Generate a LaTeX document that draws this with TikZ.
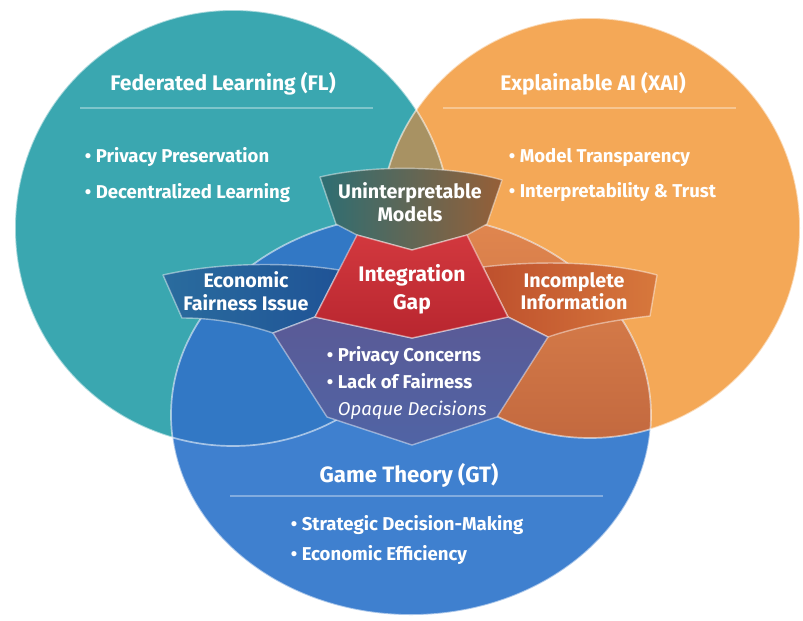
\documentclass[tikz,border=0pt]{standalone}
\usepackage{fontspec}
\setmainfont{Fira Sans}
\usetikzlibrary{positioning}
\definecolor{flteal}{HTML}{3AA7B0}
\definecolor{xaiorange}{HTML}{F4A857}
\definecolor{gtblue}{HTML}{3F80CF}
\definecolor{lenstan}{HTML}{A89263}
\definecolor{flgtblue}{HTML}{3278C5}
\definecolor{xgtlight}{HTML}{E1874F}
\definecolor{xgtdark}{HTML}{C3693F}
\definecolor{unintleft}{HTML}{2D6E73}
\definecolor{unintmid}{HTML}{5F5A4B}
\definecolor{unintright}{HTML}{965F37}
\definecolor{econleft}{HTML}{2A6C9E}
\definecolor{econright}{HTML}{1F5396}
\definecolor{incleft}{HTML}{BE502D}
\definecolor{incright}{HTML}{D7783C}
\definecolor{gaptop}{HTML}{D2383E}
\definecolor{gapbottom}{HTML}{B8262F}
\definecolor{conctop}{HTML}{5A5A96}
\definecolor{concbottom}{HTML}{5064A5}
\tikzset{
	rim/.style={draw=white,draw opacity=.55,line width=1.2pt},
	patch/.style={draw=white,draw opacity=.45,line width=1pt,line join=round},
	sepline/.style={draw=white,draw opacity=.35,line width=.8pt},
	title/.style={text=white,font=\bfseries\fontsize{15}{18}\selectfont},
	item/.style={text=white,align=left,anchor=west,font=\bfseries\fontsize{13.2}{25.5}\selectfont},
	tag/.style={text=white,align=center,font=\bfseries\fontsize{14}{16}\selectfont}
}

\begin{document}
\begin{tikzpicture}[x=0.025cm,y=-0.025cm]
	\useasboundingbox (0,0) rectangle (803,620);
	\fill[flteal] (233,228) circle [radius=218];
	\fill[xaiorange] (590,228) circle [radius=210];
	\begin{scope}
		\clip (233,228) circle [radius=218];
		\fill[lenstan] (590,228) circle [radius=210];
	\end{scope}
	\fill[gtblue] (411,415) ellipse [x radius=240, y radius=200];
	\begin{scope}
		\clip (233,228) circle [radius=218];
		\fill[flgtblue] (411,415) ellipse [x radius=240, y radius=200];
	\end{scope}
	\begin{scope}
		\clip (590,228) circle [radius=210];
		\clip (411,415) ellipse [x radius=240, y radius=200];
		\shade[top color=xgtlight,bottom color=xgtdark] (370,215) rectangle (660,440);
	\end{scope}
	\draw[rim] (233,228) circle [radius=218];
	\draw[rim] (590,228) circle [radius=210];
	\draw[rim] (411,415) ellipse [x radius=240, y radius=200];

	\shade[patch,left color=unintleft,middle color=unintmid,right color=unintright]
		(320,177) .. controls (370,165) and (450,165) .. (502,180) -- (487,224) -- (467,235)
		-- (412,250) -- (357,235) -- (336,224) -- cycle;
	\shade[patch,left color=econleft,right color=econright]
		(163,275) .. controls (220,262) and (290,262) .. (339,270) -- (315,317) -- (273,333)
		.. controls (240,322) and (210,318) .. (182,318) -- cycle;
	\shade[patch,left color=incleft,right color=incright]
		(483,267) .. controls (540,260) and (610,262) .. (657,275) -- (650,316)
		.. controls (615,320) and (580,326) .. (548,337) -- (508,317) -- cycle;
	\shade[patch,top color=conctop,bottom color=concbottom]
		(315,317) -- (412,338) -- (508,317) -- (548,337) -- (497,417) -- (412,445)
		-- (327,417) -- (273,333) -- cycle;
	\shade[patch,top color=gaptop,bottom color=gapbottom]
		(357,235) -- (412,250) -- (467,235) -- (508,317) -- (412,338) -- (315,317) -- cycle;

	\draw[sepline] (80,108) -- (373,108);
	\draw[sepline] (443,108) -- (736,108);
	\draw[sepline] (230,496) -- (603,496);

	\node[title] (fltitle) at (223,84) {Federated Learning (FL)};
	\node[title] (xaititle) at (593,84) {Explainable AI (XAI)};
	\node[title,font=\bfseries\fontsize{15.8}{18}\selectfont] (gttitle) at (409,475) {Game Theory (GT)};
	\node[item] (flitems) at (80,175) {• Privacy Preservation\\• Decentralized Learning};
	\node[item] (xaiitems) at (504,175) {• Model Transparency\\• Interpretability \& Trust};
	\node[item,font=\bfseries\fontsize{13.2}{21.5}\selectfont] (gtitems) at (286,540) {• Strategic Decision-Making\\• Economic Efficiency};
	\node[tag] (unint) at (410,202) {Uninterpretable\\Models};
	\node[tag] (econ) at (246,291) {Economic\\Fairness Issue};
	\node[tag,font=\bfseries\fontsize{15}{20}\selectfont] (gap) at (412,289) {Integration\\Gap};
	\node[tag] (incomp) at (574,291) {Incomplete\\Information};
	\node[item,font=\bfseries\fontsize{13.2}{19.5}\selectfont] (concerns) at (322,383)
		{• Privacy Concerns\\• Lack of Fairness\\\hphantom{• }{\mdseries\itshape Opaque Decisions}};
\end{tikzpicture}
\end{document}
